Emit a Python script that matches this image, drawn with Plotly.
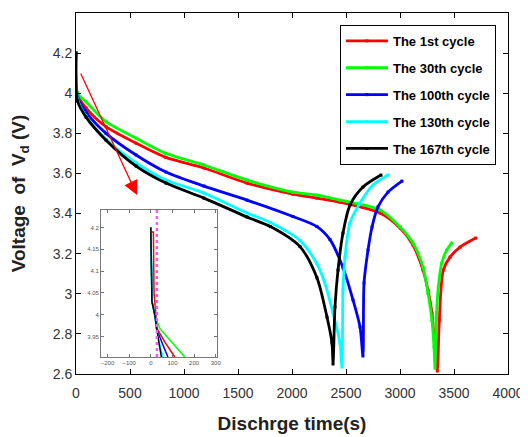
import plotly.graph_objects as go

# ---------------- data ----------------
series_names = ["The 1st cycle", "The 30th cycle", "The 100th cycle",
                "The 130th cycle", "The 167th cycle"]
series_colors = ["#ff0000", "#00ff00", "#0000ff", "#00ffff", "#000000"]

t_1st = [0, 15, 93, 278, 556, 833, 1185, 1583, 2009, 2231, 2444, 2815, 3000,
         3120, 3213, 3259, 3296, 3315, 3345, 3364, 3401, 3463, 3556, 3701]
v_1st = [4.19, 3.99, 3.926, 3.833, 3.751, 3.68, 3.627, 3.552, 3.497, 3.477,
         3.457, 3.403, 3.328, 3.243, 3.118, 3.019, 2.904, 2.784, 2.615, 2.869,
         3.118, 3.183, 3.233, 3.278]

t_30th = [0, 15, 93, 278, 556, 833, 1185, 1583, 2009, 2231, 2444, 2815, 3000,
          3120, 3213, 3259, 3296, 3315, 3324, 3339, 3355, 3386, 3432, 3479]
v_30th = [4.20, 4.00, 3.957, 3.858, 3.776, 3.70, 3.642, 3.567, 3.507, 3.492,
          3.467, 3.418, 3.333, 3.253, 3.133, 3.003, 2.869, 2.735, 2.63, 2.904,
          3.034, 3.153, 3.218, 3.253]

t_100th = [0, 15, 93, 278, 556, 833, 1185, 1583, 2009, 2231, 2352, 2472, 2565,
           2630, 2657, 2667, 2704, 2741, 2796, 2889, 3018]
v_100th = [4.20, 3.98, 3.906, 3.80, 3.692, 3.607, 3.537, 3.467, 3.385, 3.335,
           3.27, 3.13, 2.969, 2.834, 2.69, 3.054, 3.218, 3.333, 3.433, 3.507,
           3.562]

t_130th = [0, 15, 93, 278, 556, 833, 1185, 1583, 1800, 2074, 2230, 2300, 2380,
           2444, 2463, 2472, 2491, 2537, 2630, 2750, 2889]
v_130th = [4.20, 3.97, 3.885, 3.77, 3.652, 3.567, 3.502, 3.403, 3.355, 3.265,
           3.15, 3.06, 2.904, 2.755, 2.635, 3.019, 3.183, 3.353, 3.453, 3.542,
           3.592]

t_167th = [0, 15, 93, 278, 556, 833, 1185, 1583, 1800, 2074, 2231, 2324, 2370,
           2380, 2398, 2426, 2472, 2537, 2657, 2824]
v_167th = [4.20, 3.96, 3.881, 3.766, 3.637, 3.552, 3.477, 3.383, 3.335, 3.235,
           3.08, 2.884, 2.755, 2.65, 2.934, 3.118, 3.303, 3.442, 3.532, 3.592]

# inset (zoom on the first seconds)
inset_t_1st = [0, 12, 15, 23, 29, 65, 111]
inset_v_1st = [4.19, 4.19, 4.05, 4.00, 3.968, 3.937, 3.903]
inset_t_30th = [0, 6, 18, 42, 97, 157]
inset_v_30th = [4.20, 4.03, 4.00, 3.968, 3.937, 3.903]
inset_t_100th = [0, 6, 19, 26, 51, 79]
inset_v_100th = [4.20, 4.03, 4.00, 3.968, 3.937, 3.903]
inset_t_130th = [0, 5, 18, 27, 40, 56]
inset_v_130th = [4.20, 4.03, 4.00, 3.968, 3.937, 3.903]
inset_t_167th = [0, 5, 18, 26, 37, 49]
inset_v_167th = [4.20, 4.03, 4.00, 3.968, 3.937, 3.903]
inset_marker_t = [28]

x_ticks = [0, 500, 1000, 1500, 2000, 2500, 3000, 3500, 4000]
y_ticks = [2.6, 2.8, 3.0, 3.2, 3.4, 3.6, 3.8, 4.0, 4.2]
inset_x_ticks = [-200, -100, 0, 100, 200, 300]
inset_y_ticks = [3.95, 4.0, 4.05, 4.1, 4.15, 4.2]

main_t = [t_1st, t_30th, t_100th, t_130th, t_167th]
main_v = [v_1st, v_30th, v_100th, v_130th, v_167th]
inset_t = [inset_t_1st, inset_t_30th, inset_t_100th, inset_t_130th, inset_t_167th]
inset_v = [inset_v_1st, inset_v_30th, inset_v_100th, inset_v_130th, inset_v_167th]

FONT = "Arial, 'Liberation Sans', Helvetica, sans-serif"

fig = go.Figure()
for i, name in enumerate(series_names):
    fig.add_trace(go.Scatter(
        x=main_t[i], y=main_v[i], mode="lines+markers", name=name,
        legendgroup=f"g{i}",
        line=dict(color=series_colors[i], width=2.8, shape="spline",
                  smoothing=0.8),
        marker=dict(color=series_colors[i], size=3, symbol="square"),
        xaxis="x", yaxis="y"))
for i, name in enumerate(series_names):
    fig.add_trace(go.Scatter(
        x=inset_t[i], y=inset_v[i], mode="lines", showlegend=False,
        line=dict(color=series_colors[i], width=1.5),
        xaxis="x2", yaxis="y2", cliponaxis=True))

fig.add_shape(type="line", xref="x2", yref="y2 domain",
              x0=inset_marker_t[0], x1=inset_marker_t[0], y0=0, y1=1,
              line=dict(color="#ff55ff", width=2.5, dash="dot"))

fig.add_annotation(x=565, y=3.492, xref="x", yref="y", ax=-57, ay=-123,
                   axref="pixel", ayref="pixel", text="", showarrow=True,
                   arrowhead=2, arrowsize=2.2, arrowwidth=1.3,
                   arrowcolor="#ff0000")

# The page body has an 8px margin: the figure is sized to fit inside it.
fig.update_layout(
    width=520, height=429,
    margin=dict(l=68, r=20, t=5, b=63),
    paper_bgcolor="white", plot_bgcolor="white",
    font=dict(family=FONT, color="#333333"),
    showlegend=True,
    legend=dict(x=0.611, y=0.967, xanchor="left", yanchor="top",
                bordercolor="#000000", borderwidth=1, bgcolor="white",
                font=dict(family=FONT, size=13, color="#000000", weight="bold"),
                tracegroupgap=7, traceorder="grouped", itemwidth=42),
    xaxis=dict(range=[0, 4000], tickvals=x_ticks, domain=[0, 1],
               automargin=False,
               showline=True, linecolor="#000000", linewidth=1, mirror="ticks",
               ticks="inside", ticklen=5, tickcolor="#000000",
               showgrid=False, zeroline=False,
               tickfont=dict(size=14, color="#333333"),
               ticklabelstandoff=6,
               title=dict(text="Dischrge time(s)", standoff=16,
                          font=dict(size=19, color="#222222", weight="bold"))),
    yaxis=dict(range=[2.6, 4.4], tickvals=y_ticks, domain=[0, 1],
               automargin=False,
               showline=True, linecolor="#000000", linewidth=1, mirror="ticks",
               ticks="inside", ticklen=5, tickcolor="#000000",
               showgrid=False, zeroline=False,
               tickfont=dict(size=14, color="#333333"),
               title=dict(text="Voltage\u00a0\u00a0of\u00a0\u00a0V<sub>d</sub> (V)",
                          standoff=22,
                          font=dict(size=19, color="#222222", weight="bold"))),
    xaxis2=dict(range=[-230, 305], tickvals=inset_x_ticks, anchor="y2",
                domain=[0.0579, 0.326], automargin=False,
                showline=True, linecolor="#777777", linewidth=1, mirror="ticks",
                ticks="inside", ticklen=3, tickcolor="#777777",
                showgrid=False, zeroline=False,
                tickfont=dict(size=6, color="#555555")),
    yaxis2=dict(range=[3.903, 4.24], tickvals=inset_y_ticks, anchor="x2",
                domain=[0.047, 0.454], automargin=False,
                showline=True, linecolor="#777777", linewidth=1, mirror="ticks",
                ticks="inside", ticklen=3, tickcolor="#777777",
                showgrid=False, zeroline=False,
                tickfont=dict(size=6, color="#555555")),
)

fig.write_html("out.html")
